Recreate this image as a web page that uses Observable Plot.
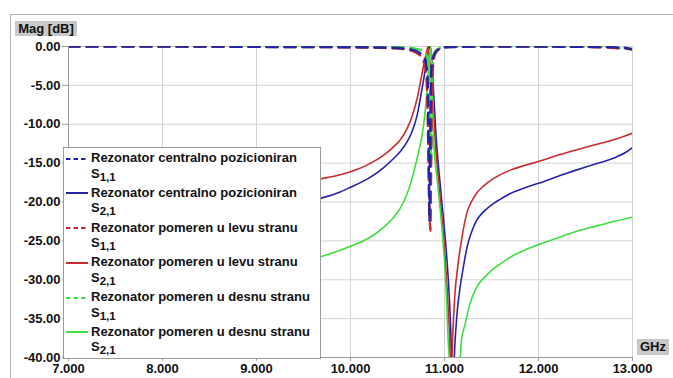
<!DOCTYPE html>
<html>
<head>
<meta charset="utf-8">
<script src="https://cdn.jsdelivr.net/npm/d3@7"></script>
<script src="https://cdn.jsdelivr.net/npm/@observablehq/plot@0.6"></script>
<style>
  html, body { margin: 0; padding: 0; background: #fff; }
  #wrap { position: relative; width: 673px; height: 378px; overflow: hidden; font-family: "Liberation Sans", Arial, sans-serif; }
  #frame { position: absolute; left: 10px; top: 14px; width: 720px; height: 420px; border: 1px solid #b4b4b4; }
  #chart { position: absolute; left: 0; top: 0; }
  .lab { position: absolute; background: #c8c8c8; font-weight: bold; font-size: 13px; color: #111; line-height: 15px; text-align: center; }
  #legend { position: absolute; left: 63px; top: 147px; width: 258px; height: 212px; background: #fff; border: 1px solid #9a9a9a; box-sizing: border-box; padding-top: 1px; font-weight: bold; font-size: 13px; color: #111; }
  .row { position: relative; height: 34.8px; }
  .row svg { position: absolute; left: 2px; top: 7.5px; }
  .t1, .t2 { position: absolute; left: 27px; line-height: 17px; white-space: nowrap; }
  .t1 { top: 0; }
  .t2 { top: 15.5px; }
  .t2 sub { font-size: 11.5px; vertical-align: -3px; line-height: 0; }
</style>
</head>
<body>
<div id="wrap">
  <div id="frame"></div>
  <div id="chart"></div>
  <div class="lab" style="left:15px;top:21px;width:62px;height:15px;">Mag [dB]</div>
  <div class="lab" style="left:637px;top:339px;width:32px;height:16px;line-height:16px;">GHz</div>
  <div id="legend"></div>
</div>
<script>
// ---- tick values ----
const xTicks = [7, 8, 9, 10, 11, 12, 13];
const yTicks = [0, -5, -10, -15, -20, -25, -30, -35, -40];

// ---- series names ----
const seriesNames = [
  "Rezonator centralno pozicioniran",
  "Rezonator pomeren u levu stranu",
  "Rezonator pomeren u desnu stranu"
];
const seriesColors = ["#2424a8", "#c82a2e", "#3ede3e"];

// ---- S2,1 : Rezonator centralno pozicioniran (blue) ----
const fS21Central = [7.0, 7.5, 8.0, 8.5, 9.0, 9.4, 9.69, 9.89, 10.0, 10.2, 10.35, 10.45, 10.53, 10.6, 10.65, 10.71, 10.75, 10.78, 10.81, 10.83, 10.845, 10.86, 10.88, 10.91, 10.96, 11.02, 11.05, 11.075, 11.09, 11.105, 11.12, 11.14, 11.16, 11.2, 11.24, 11.29, 11.34, 11.42, 11.52, 11.6, 11.7, 11.85, 12.0, 12.23, 12.4, 12.58, 12.83, 12.93, 13.0];
const mS21Central = [-23.5, -23.0, -22.4, -21.7, -20.9, -20.2, -19.5, -18.7, -18.1, -16.9, -15.6, -14.5, -13.5, -12.3, -11.1, -8.8, -6.2, -4.1, -1.9, -0.5, 0, -1.0, -5, -11.5, -18.5, -26.5, -32, -40, -50, -40, -36.5, -33.5, -31.5, -28.4, -25.8, -23.8, -22.4, -21.2, -20.2, -19.6, -18.9, -18.2, -17.6, -16.6, -15.9, -15.2, -14.2, -13.6, -13.0];

// ---- S2,1 : Rezonator pomeren u levu stranu (red) ----
const fS21Left = [7.0, 7.5, 8.0, 8.5, 9.0, 9.4, 9.69, 9.89, 10.0, 10.2, 10.35, 10.45, 10.53, 10.6, 10.66, 10.71, 10.75, 10.79, 10.815, 10.825, 10.84, 10.87, 10.9, 10.95, 11.0, 11.04, 11.06, 11.07, 11.08, 11.09, 11.11, 11.14, 11.18, 11.24, 11.29, 11.34, 11.42, 11.52, 11.7, 11.85, 12.0, 12.23, 12.4, 12.58, 12.8, 13.0];
const mS21Left = [-20.5, -20.1, -19.6, -19.0, -18.3, -17.6, -17.0, -16.5, -16.1, -15.1, -14.0, -13.0, -12.0, -10.6, -8.8, -6.6, -4.2, -1.7, -0.4, 0, -1.5, -6, -12, -19, -26, -34, -40, -50, -40, -36.5, -32, -28.4, -25, -21.3, -19.9, -18.9, -17.9, -17.0, -15.9, -15.3, -14.8, -13.9, -13.3, -12.7, -12.0, -11.15];

// ---- S2,1 : Rezonator pomeren u desnu stranu (green) ----
const fS21Right = [7.0, 7.5, 8.0, 8.5, 9.0, 9.4, 9.69, 10.0, 10.2, 10.35, 10.45, 10.53, 10.6, 10.65, 10.7, 10.74, 10.77, 10.8, 10.82, 10.84, 10.855, 10.865, 10.875, 10.885, 10.93, 10.99, 11.02, 11.04, 11.06, 11.1, 11.15, 11.17, 11.18, 11.22, 11.27, 11.34, 11.45, 11.52, 11.59, 11.7, 11.85, 12.0, 12.23, 12.4, 12.58, 12.8, 13.0];
const mS21Right = [-31.5, -31.0, -30.4, -29.7, -28.8, -27.9, -27.0, -25.7, -24.6, -23.3, -22.1, -20.8, -19.0, -17.2, -14.8, -12.7, -10.8, -7.6, -4.6, -1.5, 0, -3, -8, -12, -18, -26, -32, -38, -42, -55, -43, -39.7, -37.8, -35.7, -33.1, -31.0, -29.4, -28.6, -28.0, -27.1, -26.2, -25.5, -24.5, -23.8, -23.2, -22.5, -21.95];

// ---- S1,1 : centralno (blue dashed) ----
const fS11Central = [7.0, 8.0, 9.0, 10.0, 10.4, 10.6, 10.7, 10.76, 10.8, 10.82, 10.83, 10.84, 10.85, 10.86, 10.88, 10.92, 11.0, 11.5, 12.5, 12.9, 13.0];
const mS11Central = [0, 0, -0.05, -0.1, -0.15, -0.3, -0.6, -1.1, -2.0, -4.0, -12, -22.4, -10, -3, -1.3, -0.5, -0.1, 0, -0.05, -0.15, -0.4];

// ---- S1,1 : levu (red dashed) ----
const fS11Left = [7.0, 9.0, 10.0, 10.4, 10.6, 10.7, 10.76, 10.8, 10.82, 10.835, 10.85, 10.86, 10.875, 10.9, 10.95, 11.1, 12.5, 13.0];
const mS11Left = [0, -0.05, -0.1, -0.2, -0.4, -0.8, -1.5, -3, -8, -18, -23.7, -12, -3, -1, -0.3, 0, -0.05, -0.35];

// ---- S1,1 : desnu (green dashed) ----
const fS11Right = [7.0, 10.0, 10.6, 10.7, 10.78, 10.82, 10.845, 10.857, 10.87, 10.89, 10.95, 11.1, 12.5, 13.0];
const mS11Right = [0, -0.05, -0.1, -0.3, -0.6, -1.5, -5, -15, -4, -0.8, -0.2, 0, -0.02, -0.3];

const toRows = (f, m) => f.map((x, i) => ({f: x, mag: m[i]}));

const solid = [
  {rows: toRows(fS21Central, mS21Central), color: seriesColors[0]},
  {rows: toRows(fS21Left, mS21Left), color: seriesColors[1]},
  {rows: toRows(fS21Right, mS21Right), color: seriesColors[2]}
];
const dashed = [
  {rows: toRows(fS11Right, mS11Right), color: seriesColors[2]},
  {rows: toRows(fS11Left, mS11Left), color: seriesColors[1]},
  {rows: toRows(fS11Central, mS11Central), color: seriesColors[0]}
];

const chart = Plot.plot({
  width: 673,
  height: 378,
  marginLeft: 68,
  marginRight: 41,
  marginTop: 46,
  marginBottom: 21,
  style: {fontFamily: "'Liberation Sans', Arial, sans-serif", fontSize: "13px", fontWeight: "bold", background: "transparent", color: "#111", overflow: "visible"},
  x: {domain: [7, 13], label: null},
  y: {domain: [-40, 0], label: null},
  marks: [
    Plot.gridX(xTicks, {stroke: "#d4d4d4", strokeOpacity: 1}),
    Plot.gridY(yTicks, {stroke: "#d4d4d4", strokeOpacity: 1}),
    ...solid.map(s => Plot.line(s.rows, {x: "f", y: "mag", stroke: s.color, strokeWidth: 1.6, curve: "monotone-x", clip: true})),
    ...dashed.map(s => Plot.line(s.rows, {x: "f", y: "mag", stroke: s.color, strokeWidth: 2.4, strokeDasharray: "11,7", curve: "monotone-x", clip: true})),
    Plot.ruleX([7], {stroke: "#9a9a9a"}),
    Plot.ruleY([-40], {stroke: "#9a9a9a"}),
    Plot.axisY(yTicks, {tickSize: 6, tickPadding: 2, tickFormat: d => d.toFixed(2), stroke: "#9a9a9a", fill: "#111", label: null}),
    Plot.axisX(xTicks, {tickSize: 4, tickPadding: 2, tickFormat: d => d.toFixed(3), stroke: "#9a9a9a", fill: "#111", label: null})
  ]
});
document.getElementById("chart").appendChild(chart);

// ---- legend ----
const legend = document.getElementById("legend");
seriesNames.forEach((name, i) => {
  [["1,1", true], ["2,1", false]].forEach(([sub, isDashed]) => {
    const row = document.createElement("div");
    row.className = "row";
    row.innerHTML =
      `<svg width="22" height="4"><line x1="0" x2="22" y1="2" y2="2" stroke="${seriesColors[i]}" stroke-width="2" ${isDashed ? 'stroke-dasharray="4.5,3"' : ''}/></svg>` +
      `<div class="t1">${name}</div><div class="t2">S<sub>${sub}</sub></div>`;
    legend.appendChild(row);
  });
});
</script>
</body>
</html>
